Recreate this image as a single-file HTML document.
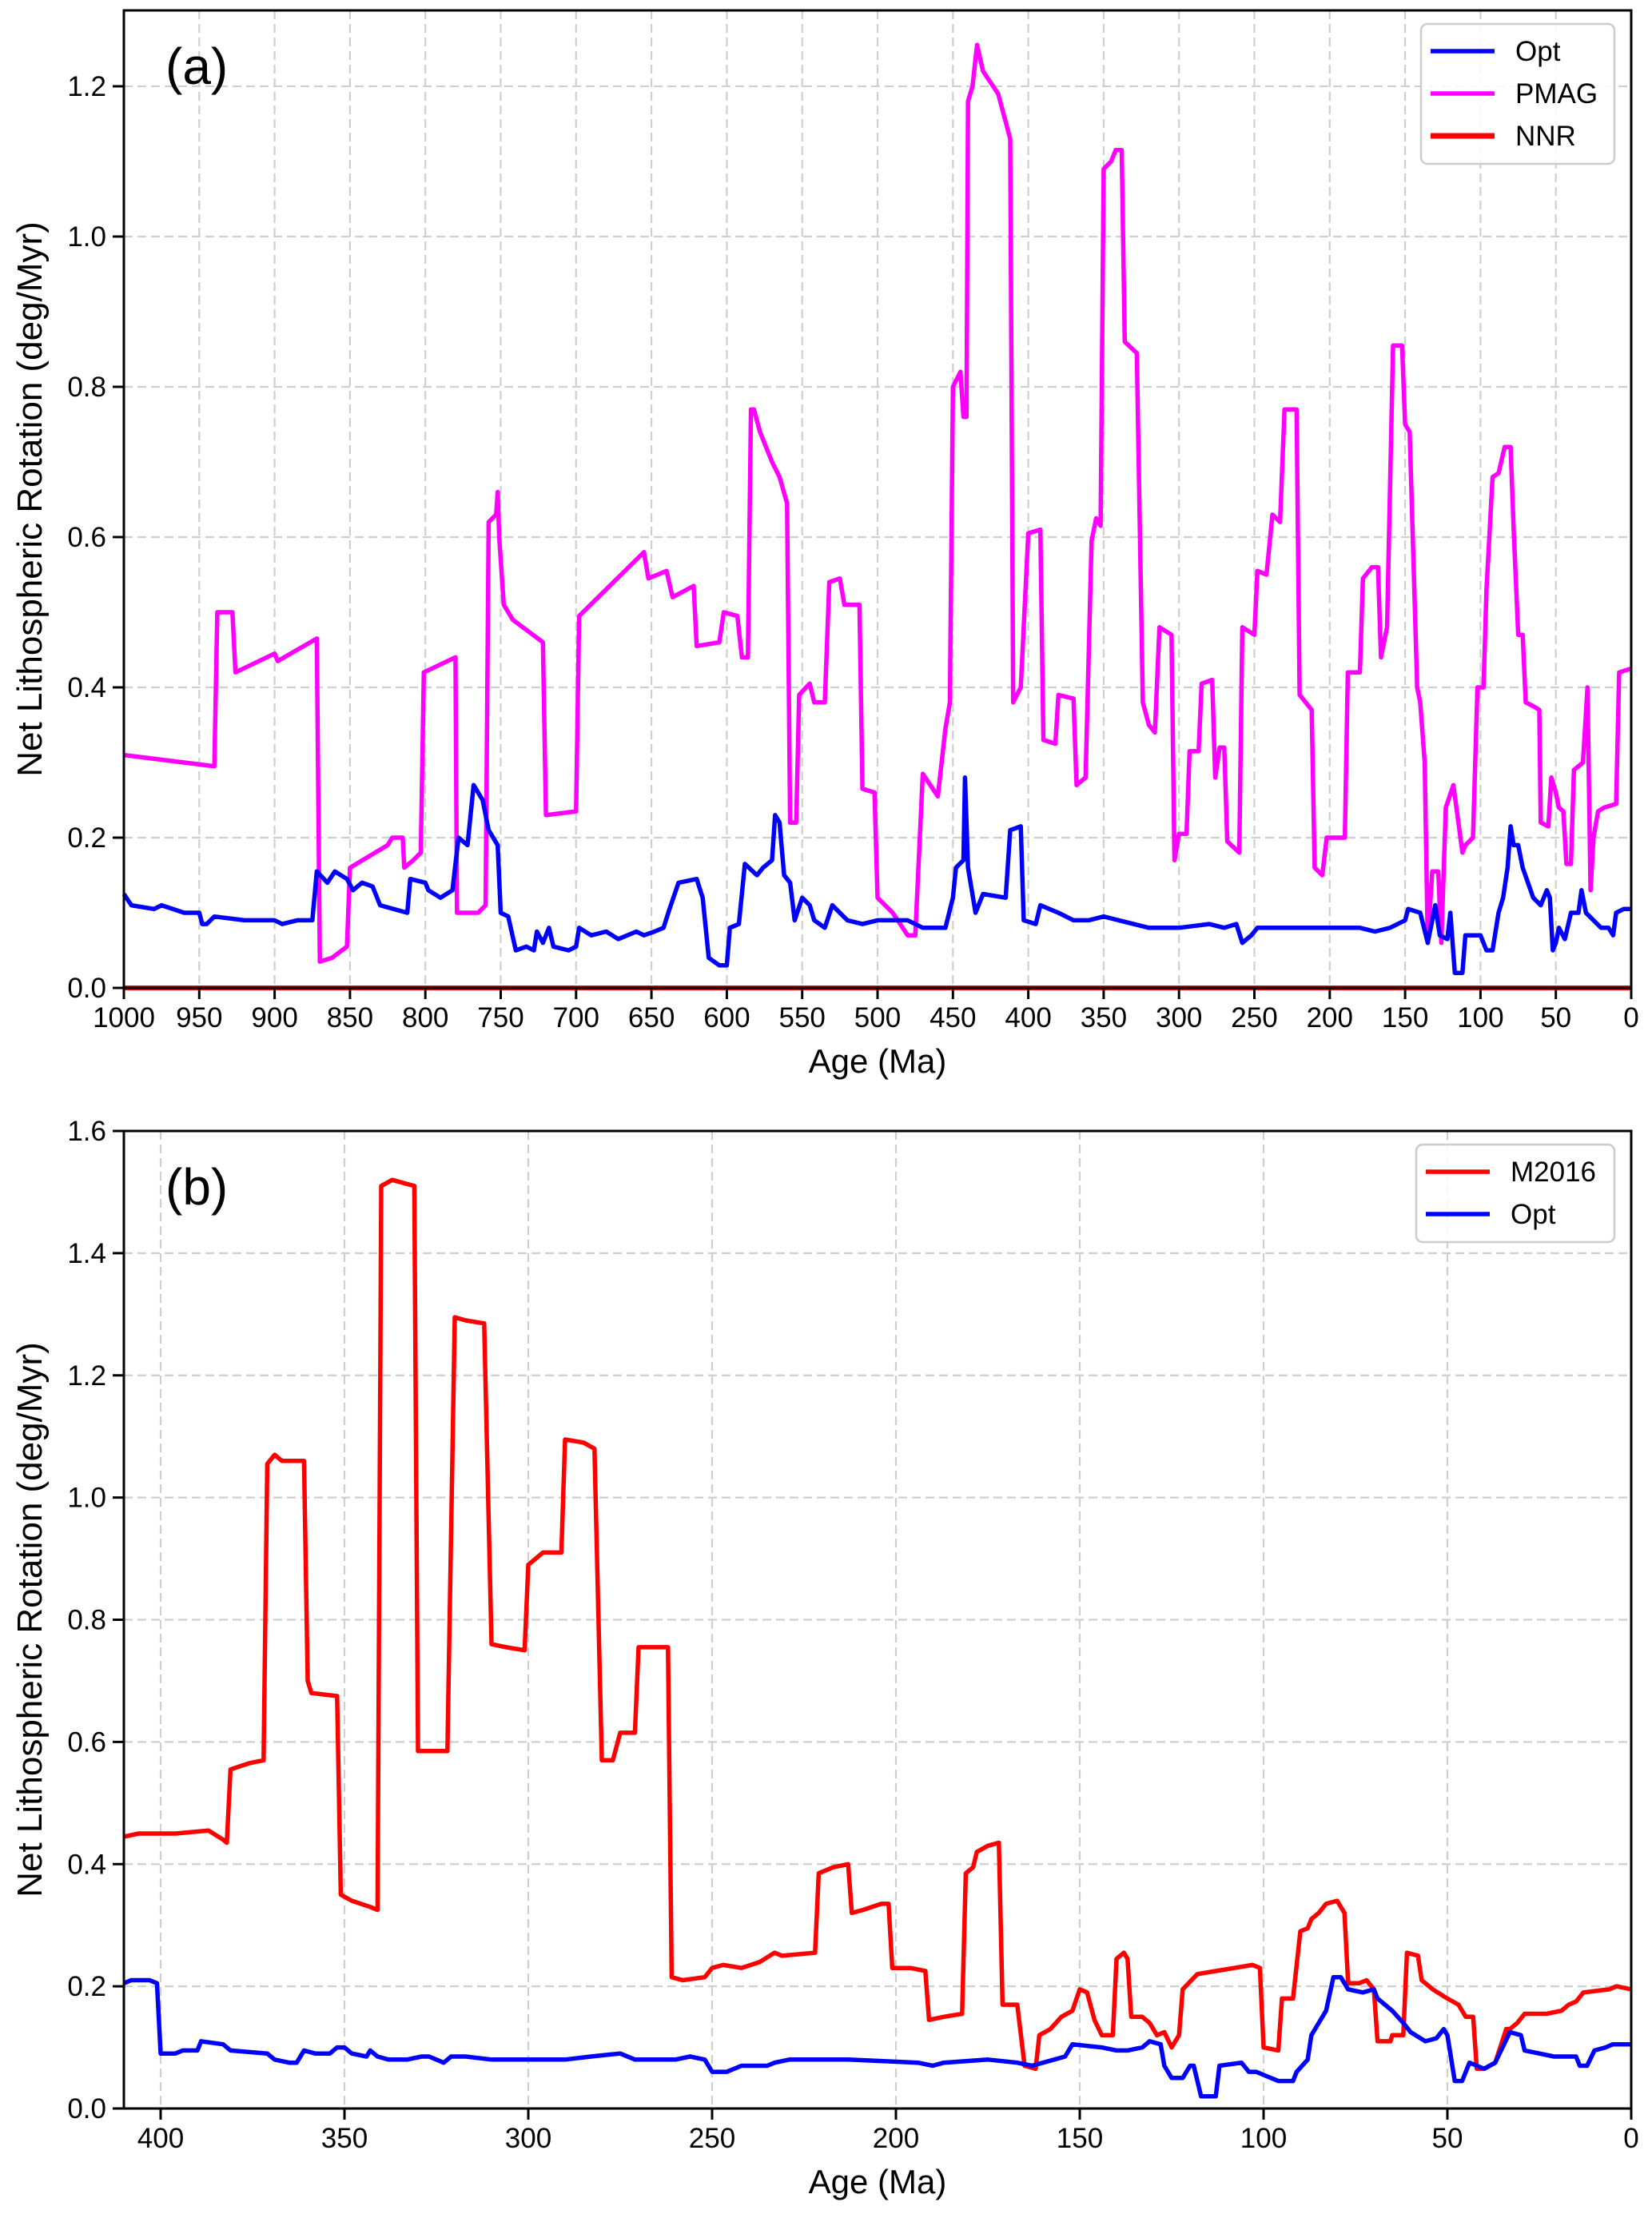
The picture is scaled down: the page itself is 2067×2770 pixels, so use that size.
<!DOCTYPE html>
<html><head><meta charset="utf-8"><style>
html,body{margin:0;padding:0;background:#fff;}
svg{display:block;font-family:"Liberation Sans",sans-serif;}
</style></head><body>
<svg id="chart" width="2067" height="2770" viewBox="0 0 2067 2770" xmlns="http://www.w3.org/2000/svg"></svg>
<script>
// Panel (a) data
const aOptAges=[1000,995,980,975,960,950,948,945,940,920,900,895,885,875,872,865,860,852,848,842,835,830,812,810,800,798,790,782,778,772,768,762,758,752,750,745,740,733,728,726,722,718,715,705,700,698,690,680,672,660,655,648,642,638,632,620,616,612,605,600,598,592,588,580,576,570,568,565,562,558,555,550,545,542,535,530,525,520,510,500,480,470,455,450,448,443,442,440,435,430,415,412,405,403,395,392,380,370,360,350,340,320,300,280,270,262,258,252,248,200,180,170,160,150,148,140,135,130,127,122,120,117,112,110,100,96,92,88,85,82,80,78,75,72,65,60,56,54,52,50,48,44,40,35,33,30,25,20,15,12,10,5,0];
const aOptVals=[0.125,0.11,0.105,0.11,0.10,0.10,0.085,0.085,0.095,0.09,0.09,0.085,0.09,0.09,0.155,0.14,0.155,0.145,0.13,0.14,0.135,0.11,0.10,0.145,0.14,0.13,0.12,0.13,0.20,0.19,0.27,0.25,0.21,0.19,0.10,0.095,0.05,0.055,0.05,0.075,0.06,0.08,0.055,0.05,0.055,0.08,0.07,0.075,0.065,0.075,0.07,0.075,0.08,0.105,0.14,0.145,0.12,0.04,0.03,0.03,0.08,0.085,0.165,0.15,0.16,0.17,0.23,0.22,0.15,0.14,0.09,0.12,0.11,0.09,0.08,0.11,0.10,0.09,0.085,0.09,0.09,0.08,0.08,0.12,0.16,0.17,0.28,0.16,0.10,0.125,0.12,0.21,0.215,0.09,0.085,0.11,0.10,0.09,0.09,0.095,0.09,0.08,0.08,0.085,0.08,0.085,0.06,0.07,0.08,0.08,0.08,0.075,0.08,0.09,0.105,0.10,0.06,0.11,0.07,0.065,0.10,0.02,0.02,0.07,0.07,0.05,0.05,0.10,0.12,0.16,0.215,0.19,0.19,0.16,0.12,0.11,0.13,0.12,0.05,0.06,0.08,0.065,0.10,0.10,0.13,0.10,0.09,0.08,0.08,0.07,0.10,0.105,0.105];
const aPmagAges=[1000,940,938,928,926,900,898,872,870,862,852,850,825,822,815,814,808,803,801,780,779,765,760,758,753,752,751,748,742,722,720,700,698,655,652,640,636,622,620,605,602,593,590,586,584,582,578,570,565,560,558,554,552,545,542,535,532,525,522,512,510,502,500,490,480,475,470,460,455,452,450,445,443,441,440,437,434,430,420,412,410,405,400,392,390,382,380,370,368,362,358,355,352,350,345,342,338,336,328,324,320,316,313,305,303,300,295,293,287,285,278,276,273,270,268,260,258,250,248,242,238,233,230,222,220,212,210,205,202,190,188,180,178,172,168,166,162,158,152,150,147,142,140,137,135,132,128,126,123,118,112,110,105,102,98,96,92,88,84,80,78,75,72,70,65,61,60,55,53,50,48,45,43,40,38,32,29,27,25,22,18,10,8,0];
const aPmagVals=[0.31,0.295,0.50,0.50,0.42,0.445,0.435,0.465,0.035,0.04,0.055,0.16,0.19,0.2,0.2,0.16,0.17,0.18,0.42,0.44,0.10,0.10,0.11,0.62,0.63,0.66,0.60,0.51,0.49,0.46,0.23,0.235,0.495,0.58,0.545,0.555,0.52,0.535,0.455,0.46,0.50,0.495,0.44,0.44,0.77,0.77,0.74,0.70,0.68,0.645,0.22,0.22,0.39,0.405,0.38,0.38,0.54,0.545,0.51,0.51,0.265,0.26,0.12,0.10,0.07,0.07,0.285,0.255,0.345,0.38,0.80,0.82,0.76,0.76,1.18,1.20,1.255,1.22,1.19,1.13,0.38,0.40,0.605,0.61,0.33,0.325,0.39,0.385,0.27,0.28,0.595,0.625,0.615,1.09,1.10,1.115,1.115,0.86,0.845,0.38,0.35,0.34,0.48,0.47,0.17,0.205,0.205,0.315,0.315,0.405,0.41,0.28,0.32,0.32,0.195,0.18,0.48,0.47,0.555,0.55,0.63,0.62,0.77,0.77,0.39,0.37,0.16,0.15,0.20,0.20,0.42,0.42,0.545,0.56,0.56,0.44,0.48,0.855,0.855,0.75,0.74,0.40,0.38,0.30,0.06,0.155,0.155,0.06,0.24,0.27,0.18,0.19,0.20,0.40,0.40,0.53,0.68,0.685,0.72,0.72,0.61,0.47,0.47,0.38,0.375,0.37,0.22,0.215,0.28,0.26,0.24,0.235,0.165,0.165,0.29,0.30,0.40,0.13,0.20,0.235,0.24,0.245,0.42,0.425];
const aNnrAges=[1000,0];
const aNnrVals=[0,0];
const aXTicks=[1000,950,900,850,800,750,700,650,600,550,500,450,400,350,300,250,200,150,100,50,0];
const aYTicks=[0.0,0.2,0.4,0.6,0.8,1.0,1.2];
// Panel (b) data
const bMAges=[410,406,396,387,383,382,381,376,372,371,369,367,361,360,359,352,351,348,343,341,340,337,331,330,322,320,317,312,310,306,301,300,298,296,291,290,285,282,280,277,275,271,270,263,262,261,258,252,250,247,242,237,233,231,222,221,217,213,212,209,204,202,201,196,192,191,187,182,181,179,178,175,172,171,167,165,162,161,158,155,152,150,148,146,144,141,140,138,137,136,133,131,129,127,125,123,122,118,113,108,103,101,100,96,95,92,90,88,87,85,83,80,78,77,74,72,70,69,65.5,65,62,61,58,57,54,50,47,45,43,42,40,37,34,33,31,29,23,19,17,15,13,6,4,0];
const bMVals=[0.445,0.45,0.45,0.455,0.44,0.435,0.555,0.565,0.57,1.055,1.07,1.06,1.06,0.70,0.68,0.675,0.35,0.34,0.33,0.325,1.51,1.52,1.51,0.585,0.585,1.295,1.29,1.285,0.76,0.755,0.75,0.89,0.90,0.91,0.91,1.095,1.09,1.08,0.57,0.57,0.615,0.615,0.755,0.755,0.755,0.215,0.21,0.215,0.23,0.235,0.23,0.24,0.255,0.25,0.255,0.385,0.395,0.40,0.32,0.325,0.335,0.335,0.23,0.23,0.225,0.145,0.15,0.155,0.385,0.395,0.42,0.43,0.435,0.17,0.17,0.07,0.065,0.12,0.13,0.15,0.16,0.195,0.19,0.145,0.12,0.12,0.245,0.255,0.245,0.15,0.15,0.14,0.12,0.125,0.10,0.12,0.195,0.22,0.225,0.23,0.235,0.23,0.10,0.095,0.18,0.18,0.29,0.295,0.31,0.32,0.335,0.34,0.32,0.205,0.205,0.21,0.195,0.11,0.11,0.12,0.12,0.255,0.25,0.21,0.195,0.18,0.17,0.15,0.15,0.065,0.065,0.075,0.13,0.13,0.14,0.155,0.155,0.16,0.17,0.175,0.19,0.195,0.20,0.195];
const bOptAges=[410,408,403,401,400,396,394,390,389,383,381,371,369,365,363,361,358,354,352,350,348,344,343,341,338,333,329,327,325,323,321,317,310,290,283,275,271,260,256,252,250,246,242,235,233,229,213,194,190,187,175,167,163,160,154,152,144,140,137,133,131,128,127,125,122,120,119,117,113,112,106,104,102,100,96,92,91,88,87,85,83,81,79,77,73,70,69,65,62,60,56,53,51,50,48,46,44,42,40,37,35,33,30,29,25,21,15,14,12,10,7,5,0];
const bOptVals=[0.205,0.21,0.21,0.205,0.09,0.09,0.095,0.095,0.11,0.105,0.095,0.09,0.08,0.075,0.075,0.095,0.09,0.09,0.10,0.10,0.09,0.085,0.095,0.085,0.08,0.08,0.085,0.085,0.08,0.075,0.085,0.085,0.08,0.08,0.085,0.09,0.08,0.08,0.085,0.08,0.06,0.06,0.07,0.07,0.075,0.08,0.08,0.075,0.07,0.075,0.08,0.075,0.07,0.075,0.085,0.105,0.10,0.095,0.095,0.10,0.11,0.105,0.07,0.05,0.05,0.07,0.07,0.02,0.02,0.07,0.075,0.06,0.06,0.055,0.045,0.045,0.06,0.08,0.12,0.14,0.16,0.215,0.215,0.195,0.19,0.195,0.18,0.16,0.14,0.125,0.11,0.115,0.13,0.12,0.045,0.045,0.075,0.07,0.065,0.075,0.10,0.125,0.12,0.095,0.09,0.085,0.085,0.07,0.07,0.095,0.10,0.105,0.105];
const bXTicks=[400,350,300,250,200,150,100,50,0];
const bYTicks=[0.0,0.2,0.4,0.6,0.8,1.0,1.2,1.4,1.6];

const NS="http://www.w3.org/2000/svg";
const svg=document.getElementById('chart');
function mk(tag,attrs,parent){const e=document.createElementNS(NS,tag);for(const k in attrs)e.setAttribute(k,attrs[k]);(parent||svg).appendChild(e);return e;}

function panel(cfg){
  const g=mk('g',{});
  
  
  const L=155,R=2041,T=cfg.T,B=cfg.B;
  const xs=a=>L+(cfg.xmax-a)/(cfg.xmax-cfg.xmin)*(R-L);
  const ys=v=>B-(v-0)/(cfg.ymax-0)*(B-T);
  cfg.xt.forEach(t=>{const x=xs(t);if(x>L+2&&x<R-2){const l=mk('line',{x1:x,x2:x,y1:T,y2:B,stroke:'#cfcfcf','stroke-width':2.2,'stroke-dasharray':'11,6'},g);}});
  cfg.yt.forEach(t=>{const y=ys(t);if(y>T+2&&y<B-2){const l=mk('line',{x1:L,x2:R,y1:y,y2:y,stroke:'#cfcfcf','stroke-width':2.2,'stroke-dasharray':'11,6'},g);}});
  cfg.series.forEach(s=>{
    const d=s.ages.map((a,i)=>(i?'L':'M')+xs(a).toFixed(1)+','+ys(s.vals[i]).toFixed(1)).join(' ');
    const p=mk('path',{d:d,fill:'none',stroke:s.color,'stroke-width':s.w||5.5,'stroke-linejoin':'round'},g);
    
    
  });
  const f=mk('rect',{x:L,y:T,width:R-L,height:B-T,fill:'none',stroke:'#000','stroke-width':3},g);
  
  cfg.xt.forEach(t=>{const x=xs(t);
    mk('line',{x1:x,x2:x,y1:B,y2:B+14,stroke:'#000','stroke-width':3},g);
    const tx=mk('text',{x:x,y:B+49,'text-anchor':'middle','font-size':35},g);tx.textContent=t;
    });
  cfg.yt.forEach(t=>{const y=ys(t);
    mk('line',{x1:L-14,x2:L,y1:y,y2:y,stroke:'#000','stroke-width':3},g);
    const tx=mk('text',{x:L-22,y:y+12,'text-anchor':'end','font-size':35},g);tx.textContent=t.toFixed(1);
    });
  const xl=mk('text',{x:(L+R)/2,y:B+106,'text-anchor':'middle','font-size':42},g);xl.textContent='Age (Ma)';
  
  const cy=(T+B)/2;
  const yl=mk('text',{x:52,y:cy,'text-anchor':'middle','font-size':44,transform:'rotate(-90 52 '+cy+')'},g);yl.textContent='Net Lithospheric Rotation (deg/Myr)';
  
  const pl=mk('text',{x:207,y:T+92,'font-size':64},g);pl.textContent=cfg.label;
  
  const lg=mk('g',{},g);
  const lh=cfg.legend.length*53+16;
  mk('rect',{x:cfg.lx,y:T+17,width:2020-cfg.lx,height:lh,rx:8,fill:'#fff','fill-opacity':0.85,stroke:'#ccc','stroke-width':2.5},lg);
  cfg.legend.forEach((e,i)=>{const y=T+51+i*53;
    const ln=mk('line',{x1:cfg.lx+12,x2:cfg.lx+92,y1:y,y2:y,stroke:e.color,'stroke-width':e.w||5.5},lg);
    
    const t=mk('text',{x:cfg.lx+118,y:y+12,'font-size':35},lg);t.textContent=e.label;
    });
}

panel({name:'panel-a',label:'(a)',T:13,B:1236,xmin:0,xmax:1000,ymax:1.301,xt:aXTicks,yt:aYTicks,lx:1778,
  series:[{name:'pmag-line',ages:aPmagAges,vals:aPmagVals,color:'#ff00ff'},{name:'opt-line',ages:aOptAges,vals:aOptVals,color:'#0000ff'},{name:'nnr-line',ages:aNnrAges,vals:aNnrVals,color:'#ff0000',w:6}],
  legend:[{label:'Opt',color:'#0000ff'},{label:'PMAG',color:'#ff00ff'},{label:'NNR',color:'#ff0000',w:7}]});
panel({name:'panel-b',label:'(b)',T:1415,B:2638,xmin:0,xmax:410,ymax:1.6,xt:bXTicks,yt:bYTicks,lx:1772,
  series:[{name:'m2016-line',ages:bMAges,vals:bMVals,color:'#ff0000'},{name:'opt-line',ages:bOptAges,vals:bOptVals,color:'#0000ff'}],
  legend:[{label:'M2016',color:'#ff0000'},{label:'Opt',color:'#0000ff'}]});
</script>
</body></html>
